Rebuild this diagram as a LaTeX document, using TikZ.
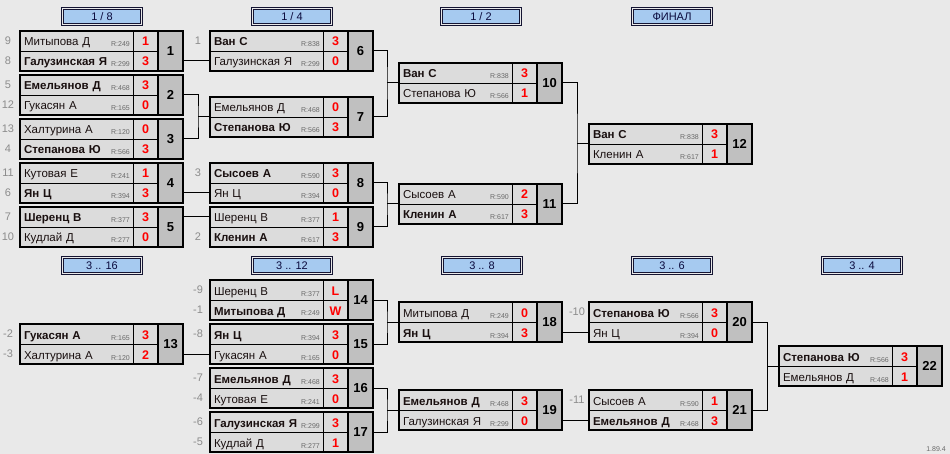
\documentclass[tikz,border=0pt]{standalone}
\usepackage{fontspec}
\setmainfont{Liberation Sans}
\usetikzlibrary{fit}
\usepackage{xcolor}

\definecolor{bgcol}{RGB}{233,233,233}
\definecolor{cellcol}{RGB}{220,220,220}
\definecolor{numcol}{RGB}{192,192,192}
\definecolor{headcol}{RGB}{166,202,240}
\definecolor{headline}{RGB}{20,20,50}
\definecolor{headtext}{RGB}{10,10,60}
\definecolor{namecol}{RGB}{25,15,15}
\definecolor{seedcol}{RGB}{140,140,140}
\definecolor{ratecol}{RGB}{105,105,105}
\definecolor{scorecol}{RGB}{255,0,0}

\newcommand{\namefont}{\fontsize{11.5}{13}\selectfont}
\newcommand{\scorefont}{\fontsize{12.5}{14}\selectfont\bfseries}
\newcommand{\numfont}{\fontsize{13}{15}\selectfont\bfseries}
\newcommand{\seedfont}{\fontsize{11}{13}\selectfont}
\newcommand{\ratefont}{\fontsize{7}{8}\selectfont}
\newcommand{\headfont}{\fontsize{11}{13}\selectfont}

\newcommand{\playerrow}[6]{%
	\node[namecell] (#1) at #2 {#4};
	\node[rating] at ([xshift=-3pt,yshift=4pt]#1.south east) {R:#5};
	\node[scorecell] (#1s) at (#1.north east) {#6};
	\node[seed] at ([xshift=-12pt]#1.west) {#3};
}
\newcommand{\matchbox}[2]{%
	\node[numcell] (#1n) at (#1as.north east) {#2};
	\node[frame, fit=(#1a)(#1b)(#1n)] (#1) {};
}

\begin{document}
\begin{tikzpicture}[x=1pt, y=-1pt,
	namecell/.style={draw, line width=0.8pt, fill=cellcol, anchor=north west, outer sep=0pt, inner xsep=4pt, inner ysep=0pt, text width=105pt, minimum height=20pt, align=left, text height=10.5pt, text depth=0.5pt, font=\namefont, text=namecol},
	scorecell/.style={draw, line width=0.8pt, fill=cellcol, anchor=north west, outer sep=0pt, inner sep=0pt, minimum width=25pt, minimum height=20pt, text height=10.5pt, text depth=0.5pt, font=\scorefont, text=scorecol},
	numcell/.style={draw, line width=2.2pt, fill=numcol, anchor=north west, outer sep=0pt, inner sep=0pt, minimum width=25pt, minimum height=40pt, text height=9pt, text depth=0pt, font=\numfont},
	frame/.style={draw, line width=2.2pt, inner sep=0pt, outer sep=0pt},
	seed/.style={font=\seedfont, text=seedcol, inner sep=0pt},
	rating/.style={font=\ratefont, text=ratecol, inner sep=0pt, anchor=base east},
	stage/.style={draw=headline, double=bgcol, double distance=1.6pt, line width=0.7pt, fill=headcol, minimum width=79pt, minimum height=16pt, inner sep=0pt, font=\headfont, text=headtext},
	link/.style={line width=1pt},
	version/.style={font=\ratefont, text=ratecol, inner sep=0pt, anchor=east}]

	\fill[bgcol] (0,0) rectangle (950,454);
	\useasboundingbox (0,0) rectangle (950,454);

	\node[stage] (h8) at (102,16.5) {1 / 8};
	\node[stage] (h4) at (292,16.5) {1 / 4};
	\node[stage] (h2) at (481,16.5) {1 / 2};
	\node[stage] (hf) at (672,16.5) {ФИНАЛ};
	\node[stage] (h16) at (102,265.5) {3 .. 16};
	\node[stage] (h12) at (292,265.5) {3 .. 12};
	\node[stage] (h38) at (482,265.5) {3 .. 8};
	\node[stage] (h36) at (672,265.5) {3 .. 6};
	\node[stage] (h34) at (862,265.5) {3 .. 4};

	\playerrow{m1a}{(20,31)}{9}{Митыпова Д}{249}{1}
	\playerrow{m1b}{(m1a.south west)}{8}{\textbf{Галузинская Я}}{299}{3}
	\matchbox{m1}{1}
	\playerrow{m2a}{(20,75)}{5}{\textbf{Емельянов Д}}{468}{3}
	\playerrow{m2b}{(m2a.south west)}{12}{Гукасян А}{165}{0}
	\matchbox{m2}{2}
	\playerrow{m3a}{(20,119)}{13}{Халтурина А}{120}{0}
	\playerrow{m3b}{(m3a.south west)}{4}{\textbf{Степанова Ю}}{566}{3}
	\matchbox{m3}{3}
	\playerrow{m4a}{(20,163)}{11}{Кутовая Е}{241}{1}
	\playerrow{m4b}{(m4a.south west)}{6}{\textbf{Ян Ц}}{394}{3}
	\matchbox{m4}{4}
	\playerrow{m5a}{(20,207)}{7}{\textbf{Шеренц В}}{377}{3}
	\playerrow{m5b}{(m5a.south west)}{10}{Кудлай Д}{277}{0}
	\matchbox{m5}{5}

	\playerrow{m6a}{(210,31)}{1}{\textbf{Ван С}}{838}{3}
	\playerrow{m6b}{(m6a.south west)}{}{Галузинская Я}{299}{0}
	\matchbox{m6}{6}
	\playerrow{m7a}{(210,97)}{}{Емельянов Д}{468}{0}
	\playerrow{m7b}{(m7a.south west)}{}{\textbf{Степанова Ю}}{566}{3}
	\matchbox{m7}{7}
	\playerrow{m8a}{(210,163)}{3}{\textbf{Сысоев А}}{590}{3}
	\playerrow{m8b}{(m8a.south west)}{}{Ян Ц}{394}{0}
	\matchbox{m8}{8}
	\playerrow{m9a}{(210,207)}{}{Шеренц В}{377}{1}
	\playerrow{m9b}{(m9a.south west)}{2}{\textbf{Кленин А}}{617}{3}
	\matchbox{m9}{9}

	\playerrow{m10a}{(399,63)}{}{\textbf{Ван С}}{838}{3}
	\playerrow{m10b}{(m10a.south west)}{}{Степанова Ю}{566}{1}
	\matchbox{m10}{10}
	\playerrow{m11a}{(399,184)}{}{Сысоев А}{590}{2}
	\playerrow{m11b}{(m11a.south west)}{}{\textbf{Кленин А}}{617}{3}
	\matchbox{m11}{11}

	\playerrow{m12a}{(589,124)}{}{\textbf{Ван С}}{838}{3}
	\playerrow{m12b}{(m12a.south west)}{}{Кленин А}{617}{1}
	\matchbox{m12}{12}

	\playerrow{m13a}{(20,324)}{-2}{\textbf{Гукасян А}}{165}{3}
	\playerrow{m13b}{(m13a.south west)}{-3}{Халтурина А}{120}{2}
	\matchbox{m13}{13}

	\playerrow{m14a}{(210,280)}{-9}{Шеренц В}{377}{L}
	\playerrow{m14b}{(m14a.south west)}{-1}{\textbf{Митыпова Д}}{249}{W}
	\matchbox{m14}{14}
	\playerrow{m15a}{(210,324)}{-8}{\textbf{Ян Ц}}{394}{3}
	\playerrow{m15b}{(m15a.south west)}{}{Гукасян А}{165}{0}
	\matchbox{m15}{15}
	\playerrow{m16a}{(210,368)}{-7}{\textbf{Емельянов Д}}{468}{3}
	\playerrow{m16b}{(m16a.south west)}{-4}{Кутовая Е}{241}{0}
	\matchbox{m16}{16}
	\playerrow{m17a}{(210,412)}{-6}{\textbf{Галузинская Я}}{299}{3}
	\playerrow{m17b}{(m17a.south west)}{-5}{Кудлай Д}{277}{1}
	\matchbox{m17}{17}

	\playerrow{m18a}{(399,302)}{}{Митыпова Д}{249}{0}
	\playerrow{m18b}{(m18a.south west)}{}{\textbf{Ян Ц}}{394}{3}
	\matchbox{m18}{18}
	\playerrow{m19a}{(399,390)}{}{\textbf{Емельянов Д}}{468}{3}
	\playerrow{m19b}{(m19a.south west)}{}{Галузинская Я}{299}{0}
	\matchbox{m19}{19}

	\playerrow{m20a}{(589,302)}{-10}{\textbf{Степанова Ю}}{566}{3}
	\playerrow{m20b}{(m20a.south west)}{}{Ян Ц}{394}{0}
	\matchbox{m20}{20}
	\playerrow{m21a}{(589,390)}{-11}{Сысоев А}{590}{1}
	\playerrow{m21b}{(m21a.south west)}{}{\textbf{Емельянов Д}}{468}{3}
	\matchbox{m21}{21}

	\playerrow{m22a}{(779,346)}{}{\textbf{Степанова Ю}}{566}{3}
	\playerrow{m22b}{(m22a.south west)}{}{Емельянов Д}{468}{1}
	\matchbox{m22}{22}

	\draw[link] (m1.east |- m6b) -- (m6b.west);
	\draw[link] (m2.east) -| ([xshift=-12pt]m7.west) |- (m3.east);
	\draw[link] ([xshift=-12pt]m7.west) -- (m7.west);
	\draw[link] (m4.east |- m8b) -- (m8b.west);
	\draw[link] (m5.east |- m9a) -- (m9a.west);
	\draw[link] (m6.east) -| ([xshift=-12pt]m10.west) |- (m7.east);
	\draw[link] ([xshift=-12pt]m10.west) -- (m10.west);
	\draw[link] (m8.east) -| ([xshift=-12pt]m11.west) |- (m9.east);
	\draw[link] ([xshift=-12pt]m11.west) -- (m11.west);
	\draw[link] (m10.east) -| ([xshift=-12pt]m12.west) |- (m11.east);
	\draw[link] ([xshift=-12pt]m12.west) -- (m12.west);

	\draw[link] (m13.east |- m15b) -- (m15b.west);
	\draw[link] (m14.east) -| ([xshift=-12pt]m18.west) |- (m15.east);
	\draw[link] ([xshift=-12pt]m18.west) -- (m18.west);
	\draw[link] (m16.east) -| ([xshift=-12pt]m19.west) |- (m17.east);
	\draw[link] ([xshift=-12pt]m19.west) -- (m19.west);
	\draw[link] (m18.east |- m20b) -- (m20b.west);
	\draw[link] (m19.east |- m21b) -- (m21b.west);
	\draw[link] (m20.east) -| ([xshift=-12pt]m22.west) |- (m21.east);
	\draw[link] ([xshift=-12pt]m22.west) -- (m22.west);

	\node[version] (ver) at (946,449) {1.89.4};
\end{tikzpicture}
\end{document}
